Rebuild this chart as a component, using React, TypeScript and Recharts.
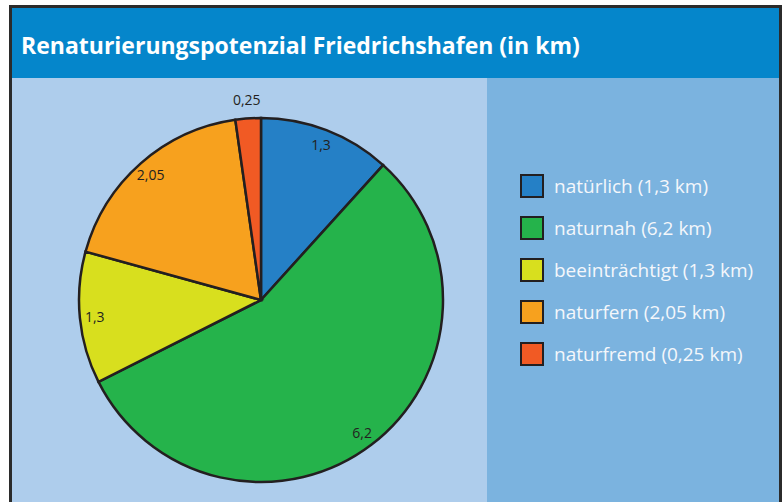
import { PieChart, Pie, Cell, Legend } from "recharts";

const categories = ["natürlich", "naturnah", "beeinträchtigt", "naturfern", "naturfremd"];
const lengths = [1.3, 6.2, 1.3, 2.05, 0.25];
const colors = ["#2580c6", "#25b34b", "#d8df1e", "#f7a11e", "#f15a24"];

const fmt = (v: number) => String(v).replace(".", ",");

const data = categories.map((name, i) => ({
  name,
  value: lengths[i],
  label: `${name} (${fmt(lengths[i])} km)`,
}));

const RADIAN = Math.PI / 180;

const SliceLabel = ({ cx, cy, midAngle, outerRadius, value, percent }: any) => {
  // small slices get their label outside the pie
  const r = percent < 0.05 ? outerRadius + 19 : outerRadius - 15;
  const x = cx + r * Math.cos(-midAngle * RADIAN);
  const y = cy + r * Math.sin(-midAngle * RADIAN);
  return (
    <text
      x={x}
      y={y}
      fill="#231f20"
      fontSize={14}
      fontFamily="Open Sans"
      textAnchor="middle"
      dominantBaseline="central"
    >
      {fmt(value)}
    </text>
  );
};

const LegendBox = ({ payload }: any) => {
  const items = [...(payload || [])].sort(
    (a: any, b: any) => categories.indexOf(a.payload.name) - categories.indexOf(b.payload.name)
  );
  return (
    <div>
      {items.map((entry: any, i: number) => (
        <div key={i} style={{ display: "flex", alignItems: "center", height: 42 }}>
          <div
            style={{
              width: 20,
              height: 20,
              background: entry.color,
              border: "2.5px solid #231f20",
              marginRight: 10,
            }}
          />
          <span style={{ color: "#f4f7fb", fontSize: 19, fontFamily: "Open Sans" }}>
            {entry.payload.label}
          </span>
        </div>
      ))}
    </div>
  );
};

export default function App() {
  return (
    <div style={{ position: "absolute", left: 0, top: 0, width: 782, height: 502, overflow: "hidden", background: "#fff" }}>
      <div
        style={{
          position: "absolute",
          left: 9,
          top: 5,
          width: 767,
          height: 497,
          borderTop: "3px solid #2b2b2b",
          borderLeft: "3px solid #2b2b2b",
          borderRight: "3px solid #2b2b2b",
        }}
      />
      <div style={{ position: "absolute", left: 12, top: 8, width: 767, height: 70, background: "#0586cb" }} />
      <div style={{ position: "absolute", left: 12, top: 78, width: 475, height: 424, background: "#aecdec" }} />
      <div style={{ position: "absolute", left: 487, top: 78, width: 292, height: 424, background: "#7bb3df" }} />
      <div
        style={{
          position: "absolute",
          left: 21,
          top: 30,
          color: "#fff",
          fontFamily: "Open Sans",
          fontWeight: 700,
          fontSize: 23,
          lineHeight: "30px",
          whiteSpace: "nowrap",
        }}
      >
        Renaturierungspotenzial Friedrichshafen (in km)
      </div>
      <div style={{ position: "absolute", left: 0, top: 0 }}>
        <PieChart width={782} height={502} margin={{ top: 0, right: 0, bottom: 0, left: 0 }}>
          <Pie
            data={data}
            dataKey="value"
            nameKey="name"
            cx={261}
            cy={300}
            outerRadius={182}
            startAngle={90}
            endAngle={-270}
            stroke="#231f20"
            strokeWidth={2.5}
            label={SliceLabel}
            labelLine={false}
            isAnimationActive={false}
          >
            {data.map((d, i) => (
              <Cell key={d.name} fill={colors[i]} />
            ))}
          </Pie>
          <Legend
            layout="vertical"
            itemSorter={null}
            content={<LegendBox />}
            wrapperStyle={{ position: "absolute", left: 520, top: 165, width: 262 }}
          />
        </PieChart>
      </div>
    </div>
  );
}
